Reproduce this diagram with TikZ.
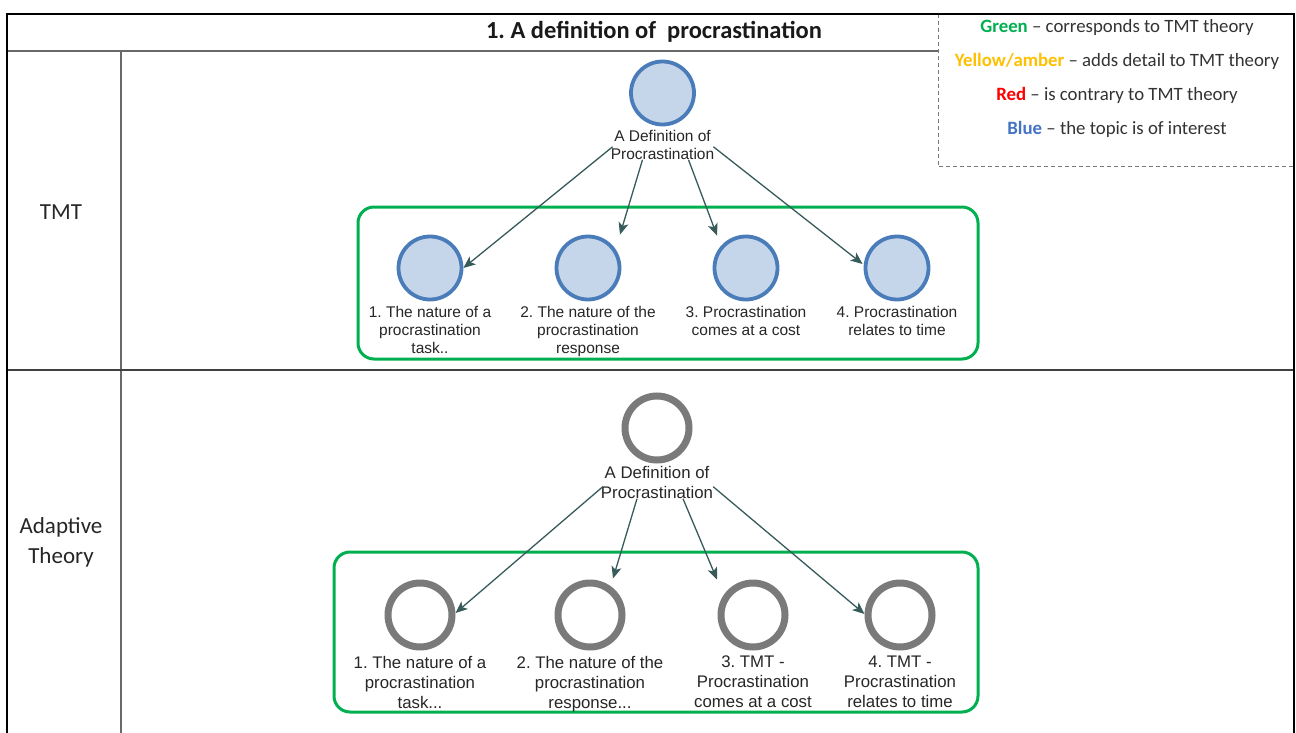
\documentclass[tikz,border=0pt]{standalone}
\usepackage{fontspec}
\setmainfont{Carlito}
\newfontfamily\nodefont{Liberation Sans}
\usetikzlibrary{calc,arrows.meta}
\frenchspacing

\definecolor{tmtgreen}{RGB}{0,176,80}
\definecolor{legamber}{RGB}{255,192,0}
\definecolor{legred}{RGB}{255,0,0}
\definecolor{legblue}{RGB}{68,114,196}
\definecolor{nodeblue}{RGB}{74,124,186}
\definecolor{nodefill}{RGB}{198,214,234}
\definecolor{ringgray}{RGB}{122,122,122}
\definecolor{linkcol}{RGB}{55,90,90}
\definecolor{gridgray}{RGB}{105,105,105}
\definecolor{legdash}{RGB}{120,120,120}

\tikzset{
  bluecirc/.style={circle, draw=nodeblue, fill=nodefill, line width=3.8pt, minimum size=63pt, inner sep=0pt},
  graycirc/.style={circle, draw=ringgray, fill=white, line width=7pt, minimum size=64pt, inner sep=0pt},
  smalllbl/.style={font=\nodefont\fontsize{15.5}{18}\selectfont, align=center, inner sep=0pt, anchor=north, text=black!85},
  biglbl/.style={font=\nodefont\fontsize{16.8}{20}\selectfont, align=center, inner sep=0pt, anchor=north, text=black!85},
  link/.style={draw=linkcol, line width=1.3pt, -{Stealth[length=12pt,width=10pt,inset=3pt]}},
  grpbox/.style={draw=tmtgreen, line width=3pt, rounded corners=16pt, inner sep=0pt},
  legtext/.style={font=\fontsize{18.8}{22}\selectfont, inner sep=0pt, text=black!80},
  rowhead/.style={font=\fontsize{23}{30}\selectfont, align=center, inner sep=0pt, text=black!85},
  gridline/.style={draw=gridgray, line width=1.6pt},
  outerline/.style={draw=black, line width=2pt},
}

\begin{document}
\begin{tikzpicture}[x=1pt, y=-1pt]
\useasboundingbox (0,0) rectangle (1296,733);

% table grid
\draw[gridline] (7,51) -- (1294,51);
\draw[gridline] (121,51) -- (121,733);
\draw[gridline, draw=black!75] (7,370) -- (1294,370);

% legend box
\fill[white] (938,14) rectangle (1294,167);
\draw[draw=legdash, line width=1pt, dash pattern=on 4pt off 3pt] (938,14) -- (938,167) -- (1294,167);

% outer frame
\draw[outerline] (7,733) -- (7,14) -- (1294,14) -- (1294,733);

% headings
\node[font=\fontsize{24.5}{29}\selectfont\bfseries, inner sep=0pt, text=black!90] (title) at (654,32) {1. A definition of~~procrastination};
\node[rowhead] (rowtmt) at (61,212) {TMT};
\node[rowhead] (rowadapt) at (61,542) {Adaptive\\Theory};

% legend entries
\node[legtext] (lg1) at (1117,27) {\textcolor{tmtgreen}{\bfseries Green} – corresponds to TMT theory};
\node[legtext] (lg2) at (1117,61) {\textcolor{legamber}{\bfseries Yellow/amber} – adds detail to TMT theory};
\node[legtext] (lg3) at (1117,95) {\textcolor{legred}{\bfseries Red} – is contrary to TMT theory};
\node[legtext] (lg4) at (1117,129) {\textcolor{legblue}{\bfseries Blue} – the topic is of interest};

% ---- TMT map ----
\node[grpbox, minimum width=620pt, minimum height=152pt] (tgroup) at (668,283) {};
\node[bluecirc] (troot) at (662.5,93) {};
\node[smalllbl] (trootl) at (662.5,130) {A Definition of\\Procrastination};
\node[bluecirc] (t1) at (430,268) {};
\node[bluecirc] (t2) at (588,268) {};
\node[bluecirc] (t3) at (746,268) {};
\node[bluecirc] (t4) at (897,268) {};
\node[smalllbl] (t1l) at (430,306) {1. The nature of a\\procrastination\\task..};
\node[smalllbl] (t2l) at (588,306) {2. The nature of the\\procrastination\\response};
\node[smalllbl] (t3l) at (746,306) {3. Procrastination\\comes at a cost};
\node[smalllbl] (t4l) at (897,306) {4. Procrastination\\relates to time};

\coordinate (ts1) at ($(trootl.south west)+(2,-13)$);
\coordinate (ts2) at ($(trootl.south)+(-20,0)$);
\coordinate (ts3) at ($(trootl.south)+(26,0)$);
\coordinate (ts4) at ($(trootl.south east)+(-1,-13)$);
\draw[link] (ts1) -- (t1.east);
\draw[link] (ts2) -- ($(t2.north)+(32,0)$);
\draw[link] (ts3) -- ($(t3.north)+(-29,1)$);
\draw[link] (ts4) -- ($(t4.west)+(-1,-4)$);

% ---- Adaptive Theory map ----
\node[grpbox, minimum width=644pt, minimum height=160pt] (agroup) at (656,632) {};
\node[graycirc] (aroot) at (657,428) {};
\node[biglbl] (arootl) at (657,466) {A Definition of\\Procrastination};
\node[graycirc] (a1) at (420,615) {};
\node[graycirc] (a2) at (590,615) {};
\node[graycirc] (a3) at (753,615) {};
\node[graycirc] (a4) at (900,615) {};
\node[biglbl] (a1l) at (420,656) {1. The nature of a\\procrastination\\task...};
\node[biglbl] (a2l) at (590,656) {2. The nature of the\\procrastination\\response...};
\node[biglbl] (a3l) at (753,656) {3. TMT -\\Procrastination\\comes at a cost};
\node[biglbl] (a4l) at (900,656) {4. TMT -\\Procrastination\\relates to time};

\coordinate (as1) at ($(arootl.south west)+(2,-12)$);
\coordinate (as2) at ($(arootl.south)+(-20,0)$);
\coordinate (as3) at ($(arootl.south)+(26,0)$);
\coordinate (as4) at ($(arootl.south east)+(0,-12)$);
\draw[link] (as1) -- ($(a1.east)+(0,-2)$);
\draw[link] (as2) -- ($(a2.north)+(23,-1)$);
\draw[link] (as3) -- ($(a3.north)+(-36,0)$);
\draw[link] (as4) -- ($(a4.west)+(0,-1)$);
\end{tikzpicture}
\end{document}
